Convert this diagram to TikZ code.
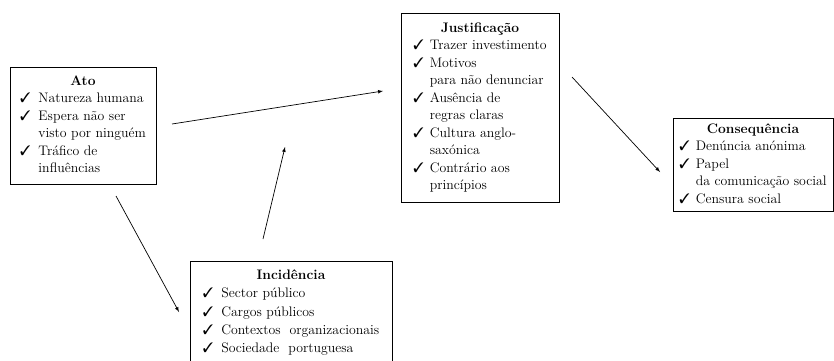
\documentclass[tikz,border=0pt]{standalone}
\usepackage{amssymb}
\usepackage{pifont}
\usepackage{tikz}
\usetikzlibrary{positioning,calc}

\newcommand{\chk}{\ding{51}}
\tikzset{
	caixa/.style={draw, line width=0.9pt, inner sep=0pt, font=\fontsize{13.8}{17.5}\selectfont},
	seta/.style={->, >=latex, line width=0.7pt}
}

\begin{document}
\begin{tikzpicture}[x=1pt, y=-1pt]
			\useasboundingbox (0,0) rectangle (834,360);
			% caixas
			\node[caixa, minimum width=146pt, minimum height=117pt] (ato) at (83,125.5) {%
				\begin{tabular}{@{}l@{\hspace{8pt}}l@{}}
					\multicolumn{2}{c}{\textbf{Ato}}\\
					\chk & Natureza humana\\
					\chk & Espera não ser\\
					& visto por ninguém\\
					\chk & Tráfico de\\
					& influências
				\end{tabular}};
			\node[caixa, minimum width=158pt, minimum height=189pt] (just) at (480,107.5) {%
				\begin{tabular}{@{}l@{\hspace{6pt}}l@{}}
					\multicolumn{2}{c}{\textbf{Justificação}}\\
					\chk & Trazer investimento\\
					\chk & Motivos\\
					& para não denunciar\\
					\chk & Ausência de\\
					& regras claras\\
					\chk & Cultura anglo-\\
					& saxónica\\
					\chk & Contrário aos\\
					& princípios
				\end{tabular}};
			\node[caixa, minimum width=160pt, minimum height=93pt] (cons) at (753,164.5) {%
				\begin{tabular}{@{}l@{\hspace{6pt}}l@{}}
					\multicolumn{2}{c}{\textbf{Consequência}}\\
					\chk & Denúncia anónima\\
					\chk & Papel\\
					& da comunicação social\\
					\chk & Censura social
				\end{tabular}};
			\node[caixa, font=\fontsize{13.8}{18.3}\selectfont, minimum width=202pt, minimum height=103pt] (inc) at (291,312.5) {%
				\begin{tabular}{@{}l@{\hspace{8pt}}l@{}}
					\multicolumn{2}{c}{\textbf{Incidência}}\\
					\chk & Sector público\\
					\chk & Cargos públicos\\
					\chk & Contextos\ \ organizacionais\\
					\chk & Sociedade\ \ portuguesa
				\end{tabular}};
			% pontas das setas
			\coordinate (a1) at (172,124);
			\coordinate (j1) at (383,91);
			\coordinate (a2) at (116,196);
			\coordinate (i1) at (179,312);
			\coordinate (i2) at (263,239);
			\coordinate (m1) at (285,147);
			\coordinate (j2) at (572,77);
			\coordinate (c1) at (660,172);
			\draw[seta] (a1) -- (j1);
			\draw[seta] (a2) -- (i1);
			\draw[seta] (i2) -- (m1);
			\draw[seta] (j2) -- (c1);
		\end{tikzpicture}
\end{document}
